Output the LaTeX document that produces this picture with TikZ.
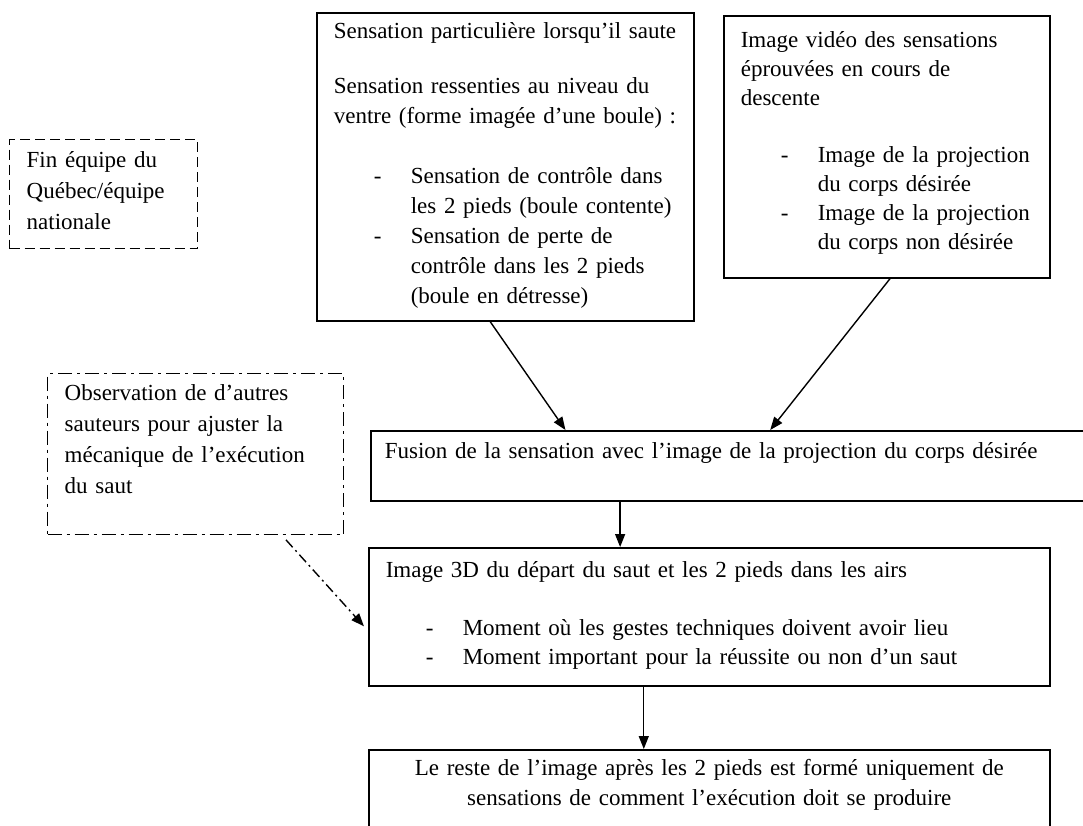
\documentclass[tikz,border=0pt]{standalone}
\usepackage{fontspec}
\setmainfont{Liberation Serif}
\usetikzlibrary{calc,arrows.meta}
\tikzset{every node/.style={font={\fontsize{23}{30}\selectfont}, inner xsep=17pt, inner ysep=0pt, anchor=north west, align=left},
  boite/.style={draw, line width=1.6pt},
  tirets/.style={draw, line width=1.4pt, dash pattern=on 10pt off 5pt},
  pointilles/.style={draw, line width=1.4pt, dash pattern=on 14pt off 5pt on 3pt off 5pt},
  fleche/.style={->, line width=1.4pt}}
\newcommand{\tiret}{\hspace*{40pt}\makebox[37pt][l]{-}}
\newcommand{\suite}{\hspace*{77pt}}

\begin{document}
\begin{tikzpicture}[x=1pt,y=-1pt,>={Triangle[length=13pt,width=10pt]}]
   \useasboundingbox (0,0) rectangle (1083,825);
   \clip (0,0) rectangle (1083,825);
   % boites du haut
   \node[boite, text width=343pt, text height=26pt, text depth=282pt] (a) at (316,12)
     {Sensation particulière lorsqu’il saute\\[25pt]
      Sensation ressenties au niveau du\\
      ventre (forme imagée d’une boule) :\\[30pt]
      \tiret Sensation de contrôle dans\\
      \suite les 2 pieds (boule contente)\\
      \tiret Sensation de perte de\\
      \suite contrôle dans les 2 pieds\\
      \suite (boule en détresse)};
   \node[boite, font={\fontsize{23}{29}\selectfont}, text width=292pt, text height=32pt, text depth=230pt] (b) at (723,15)
     {Image vidéo des sensations\\
      éprouvées en cours de\\
      descente\\[28pt]
      \tiret Image de la projection\\
      \suite du corps désirée\\
      \tiret Image de la projection\\
      \suite du corps non désirée};
   % boites de gauche
   \node[tirets, font={\fontsize{23}{31}\selectfont}, text width=154pt, text height=28pt, text depth=81pt] (f) at (9,139)
     {Fin équipe du\\ Québec/équipe\\ nationale};
   \node[pointilles, font={\fontsize{23}{31}\selectfont}, text width=262pt, text height=27pt, text depth=134pt] (o) at (47,373)
     {Observation de d’autres\\ sauteurs pour ajuster la\\ mécanique de l’exécution\\ du saut};
   % colonne centrale
   \node[boite, inner xsep=14pt, text width=740pt, text height=28pt, text depth=42pt] (c) at (370,430)
     {Fusion de la sensation avec l’image de la projection du corps désirée};
   \node[boite, font={\fontsize{23}{28.5}\selectfont}, text width=647pt, text height=30pt, text depth=108pt] (d) at (368,547)
     {Image 3D du départ du saut et les 2 pieds dans les airs\\[29.5pt]
      \tiret Moment où les gestes techniques doivent avoir lieu\\
      \tiret Moment important pour la réussite ou non d’un saut};
   \node[boite, text width=647pt, text height=26pt, text depth=75pt, align=center] (e) at (368,749)
     {Le reste de l’image après les 2 pieds est formé uniquement de\\
      sensations de comment l’exécution doit se produire};
   % fleches
   \draw[fleche] ($(a.south west)!0.46!(a.south east)$) -- ($(c.north west)!0.254!(c.north east)$);
   \draw[fleche] ($(b.south west)!0.51!(b.south east)$) -- ($(c.north west)!0.52!(c.north east)$);
   \coordinate (cd) at ($(c.south west)!0.325!(c.south east)$);
   \draw[fleche] (cd) -- (cd |- d.north);
   \coordinate (de) at ($(d.south west)!0.404!(d.south east)$);
   \draw[fleche] (de) -- (de |- e.north);
   \draw[fleche, dash pattern=on 10pt off 4pt on 2pt off 4pt, shorten <=6pt, shorten >=6pt]
     ($(o.south west)!0.79!(o.south east)$) -- ($(d.north west)!0.6!(d.south west)$);
\end{tikzpicture}
\end{document}
